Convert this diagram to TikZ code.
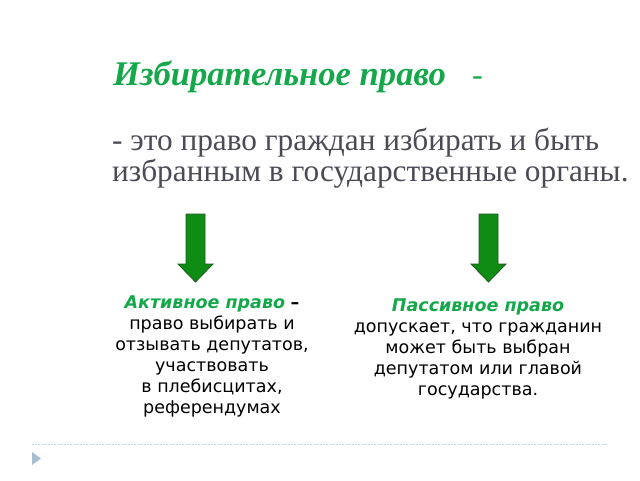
\documentclass[tikz,border=0pt]{standalone}
\usepackage{fontspec}
\setmainfont{Liberation Serif}
\newfontfamily\djv{DejaVu Sans}
\definecolor{tgreen}{HTML}{14A84B}
\definecolor{tgray}{HTML}{4B4B55}
\definecolor{agreen}{HTML}{0E8C14}
\definecolor{adark}{HTML}{1E5A1E}
\definecolor{lblue}{HTML}{A9BDD3}
\tikzset{
  downarrow/.style={draw=adark, fill=agreen, line width=0.8pt, line join=miter},
  captext/.style={align=center, font=\djv\fontsize{17.5}{21}\selectfont, text=black, inner sep=0pt},
}
\begin{document}
\begin{tikzpicture}[x=1pt,y=-1pt]
\useasboundingbox (0,0) rectangle (640,480);
\node[anchor=base west, inner sep=0pt, text=tgreen, font=\fontsize{34.6}{40}\selectfont] (title) at (113,85)
  {\textbf{\textit{Избирательное право}}};
\node[anchor=base west, inner sep=0pt, text=tgreen, font=\fontsize{32}{36}\selectfont] (dash) at (472,85) {\textit{-}};
\node[anchor=base west, inner sep=0pt, text=tgray, align=left, font=\fontsize{31.3}{29}\selectfont] (def) at (112,181)
  {- это право граждан избирать и быть\\избранным в государственные органы.};
% arrows
\draw[downarrow] (186,214) -- (205,214) -- (205,264) -- (213,264) -- (195.5,282) -- (178,264) -- (186,264) -- cycle;
\draw[downarrow] (479,214) -- (498,214) -- (498,264) -- (506,264) -- (488.5,282) -- (471,264) -- (479,264) -- cycle;
\node[captext, anchor=base] (act) at (212,413)
  {\textcolor{tgreen}{\textbf{\textit{Активное право}}} \textbf{–}\\право выбирать и\\отзывать депутатов,\\участвовать\\в плебисцитах,\\референдумах};
\node[captext, anchor=base] (pas) at (478,395)
  {\textcolor{tgreen}{\textbf{\textit{Пассивное право}}}\\допускает, что гражданин\\может быть выбран\\депутатом или главой\\государства.};
\draw[lblue!70, line width=1pt, dash pattern=on 2pt off 1.2pt] (32,444) -- (608,444);
\fill[lblue] (32,452) -- (41,458.5) -- (32,465) -- cycle;
\end{tikzpicture}
\end{document}
